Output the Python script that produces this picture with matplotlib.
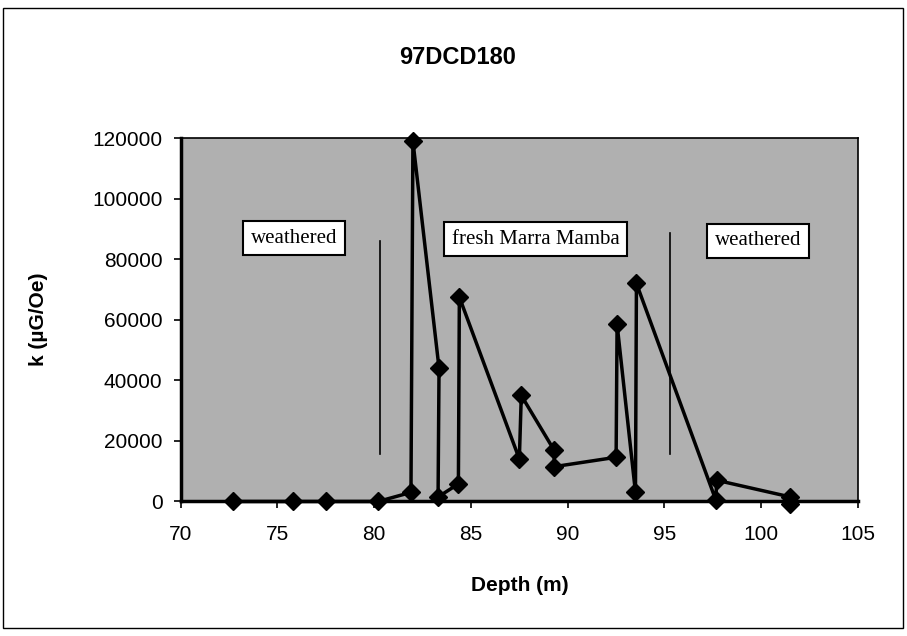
import numpy as np
import matplotlib
matplotlib.use("Agg")
import matplotlib.pyplot as plt
from matplotlib.patches import Rectangle

# depth (m) vs susceptibility k
depth = [72.7, 75.8, 77.5, 80.2, 81.9, 82.0, 83.35, 83.3, 84.35, 84.4,
         87.5, 87.6, 89.3, 89.3, 92.5, 92.55, 93.5, 93.55, 97.65, 97.7,
         101.5, 101.5]
k = [0, 0, 0, 0, 3000, 119000, 44000, 1500, 5800, 67500,
     14000, 35000, 16900, 11500, 14600, 58500, 3000, 72000, 500, 7000,
     1500, -900]

# zone labels and the thin divider lines
zone_names = ["weathered", "fresh Marra Mamba", "weathered"]
zone_x = [75.86, 88.34, 99.83]
zone_y = [86900, 86600, 86000]
divider_x = [80.3, 95.3]
divider_bottom = [15800, 15800]
divider_top = [86000, 88500]

x_ticks = [70, 75, 80, 85, 90, 95, 100, 105]
y_ticks = [0, 20000, 40000, 60000, 80000, 100000, 120000]

plt.rcParams['font.family'] = ['Liberation Sans', 'DejaVu Sans']

fig = plt.figure(figsize=(9.07, 6.36), dpi=100)
ax = fig.add_axes([0.1992, 0.2115, 0.7468, 0.5715])
ax.set_facecolor('#b0b0b0')

# chart-area border
fig.patches.append(Rectangle((3 / 907, 1 - 628 / 636), 900 / 907, 620 / 636,
                             transform=fig.transFigure, fill=False,
                             edgecolor='black', linewidth=1))

ax.plot(depth, k, color='black', linewidth=2.5, marker='D', markersize=9,
        markerfacecolor='black', markeredgecolor='black', clip_on=False, zorder=4)

for xd, y0, y1 in zip(divider_x, divider_bottom, divider_top):
    ax.plot([xd, xd], [y0, y1], color='black', linewidth=1.2, zorder=3)

for name, xz, yz in zip(zone_names, zone_x, zone_y):
    ax.text(xz, yz, name, family='Liberation Serif', fontsize=15,
            ha='center', va='center', zorder=5,
            bbox=dict(boxstyle='square,pad=0.36', facecolor='white',
                      edgecolor='black', linewidth=1.5))

ax.set_xlim(70, 105)
ax.set_ylim(0, 120000)
ax.set_xticks(x_ticks)
ax.set_yticks(y_ticks)
ax.set_yticklabels([str(v) for v in y_ticks])
ax.tick_params(axis='both', labelsize=15, direction='out', length=5, width=1.2)
ax.tick_params(axis='x', pad=12)
ax.tick_params(axis='y', pad=8)
for s in ax.spines.values():
    s.set_linewidth(1.2)
ax.spines['left'].set_linewidth(2.5)
ax.spines['bottom'].set_linewidth(2.5)

fig.text(458 / 907, 1 - 57 / 636, "97DCD180", fontsize=17, fontweight='bold',
         ha='center', va='center')
ax.set_xlabel("Depth (m)", fontsize=15, fontweight='bold')
ax.xaxis.set_label_coords(0.50, -0.204)
ax.set_ylabel("k (µG/Oe)", fontsize=15, fontweight='bold')
ax.yaxis.set_label_coords(-0.196, 0.5)

fig.savefig("out.png", dpi=100)
